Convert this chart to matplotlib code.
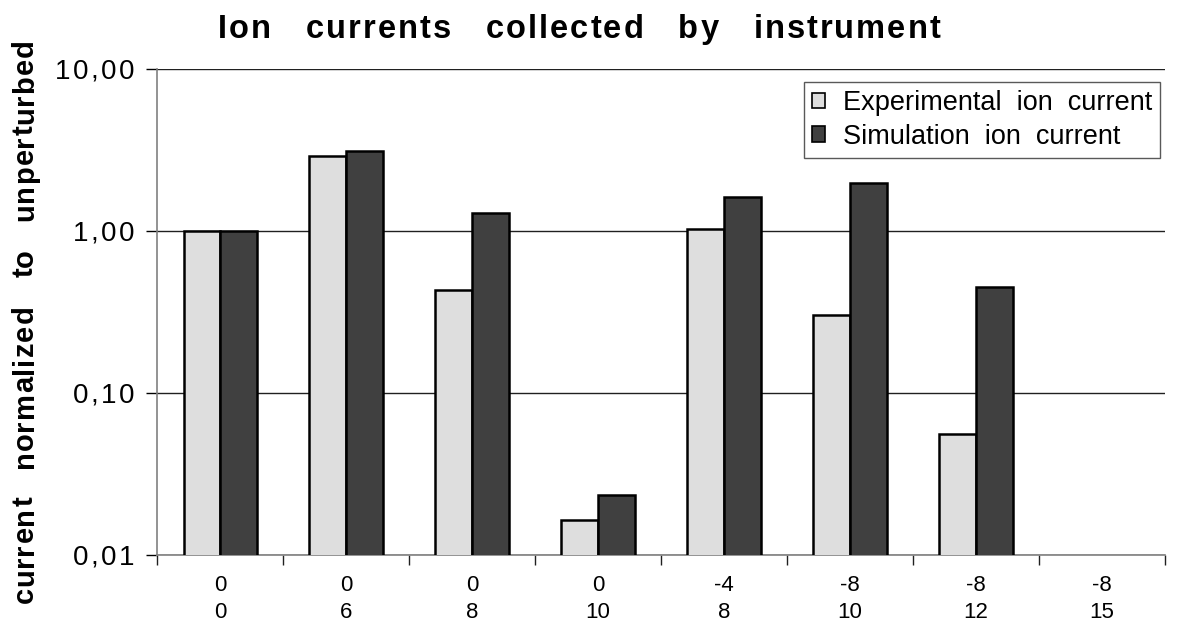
import numpy as np
import matplotlib
matplotlib.use("Agg")
import matplotlib.pyplot as plt
from matplotlib.patches import Patch
from matplotlib.transforms import IdentityTransform
from matplotlib.font_manager import FontProperties, findfont
from matplotlib.ft2font import FT2Font

# Bias settings for each measurement (two-line category labels)
bias_top = ["0", "0", "0", "0", "-4", "-8", "-8", "-8"]
bias_bottom = ["0", "6", "8", "10", "8", "10", "12", "15"]

# Ion currents normalized to the unperturbed case
experimental = [1.00, 2.90, 0.43, 0.0165, 1.03, 0.305, 0.056, np.nan]
simulation = [1.00, 3.12, 1.29, 0.0235, 1.62, 1.98, 0.451, np.nan]

ytick_values = [0.01, 0.1, 1, 10]
ytick_labels = ["0,01", "0,10", "1,00", "10,00"]

series_names = ["Experimental  ion  current", "Simulation  ion  current"]
title = "Ion   currents   collected   by   instrument"
ylabel = "current   normalized   to   unperturbed"

FAMILY = "Liberation Sans"
plt.rcParams["font.family"] = [FAMILY, "DejaVu Sans"]

fig = plt.figure(figsize=(11.88, 6.26), dpi=100)
ax = fig.add_axes([0.1322, 0.1134, 0.8484, 0.7764])
ax.set_yscale("log")


def spaced_text(s, x0, y0, size, weight="normal", tracking=0.0,
                ha="left", vertical=False):
    """Draw s in display pixels with extra spacing between letters."""
    prop = FontProperties(family=FAMILY, size=size, weight=weight)
    font = FT2Font(findfont(prop))
    font.set_size(size, fig.dpi)
    adv = [font.load_char(ord(c)).linearHoriAdvance / 65536 for c in s]
    total = sum(adv) + tracking * (len(s) - 1)
    pos = {"left": 0.0, "center": -total / 2, "right": -total}[ha]
    dx, dy = (0, 1) if vertical else (1, 0)
    for c, a in zip(s, adv):
        if c != " ":
            fig.text(x0 + dx * pos, y0 + dy * pos, c,
                     transform=IdentityTransform(), fontproperties=prop,
                     ha="left", va="baseline",
                     rotation=90 if vertical else 0,
                     rotation_mode="anchor")
        pos += a + tracking


x = np.arange(len(bias_top))
w = 0.29
light = "#dedede"
dark = "#404040"
ax.bar(x - w / 2, experimental, width=w, color=light, edgecolor="black",
       linewidth=1.8, zorder=3)
ax.bar(x + w / 2, simulation, width=w, color=dark, edgecolor="black",
       linewidth=1.8, zorder=3)

ax.set_xlim(-0.5, len(bias_top) - 0.5)
ax.set_ylim(0.01, 10)

# y axis: ticks and grid; labels are letter-spaced text
ax.set_yticks(ytick_values)
ax.set_yticklabels([])
ax.yaxis.set_minor_locator(matplotlib.ticker.NullLocator())
ax.tick_params(axis="y", which="major", length=8, width=1, color="black")
ax.yaxis.grid(True, which="major", color="#202020", linewidth=1.0, zorder=0)

ytick_size = 20
ytick_em = ytick_size * fig.dpi / 72
for v, lab in zip(ytick_values, ytick_labels):
    ty = ax.transData.transform((0, v))[1]
    spaced_text(lab, 134, ty - 0.358 * ytick_em, ytick_size, tracking=2.3,
                ha="right")

# x axis: ticks at category boundaries, labels at category centres
ax.set_xticks(np.arange(-0.5, len(bias_top)))
ax.set_xticklabels([])
ax.set_xticks(x, minor=True)
ax.set_xticklabels([f"{t}\n{b}" for t, b in zip(bias_top, bias_bottom)],
                   minor=True, fontsize=16, linespacing=1.4)
ax.tick_params(axis="x", which="major", length=7, width=1, color="#202020",
               direction="out")
ax.tick_params(axis="x", which="minor", length=0, pad=14.4)

for side in ("top", "right"):
    ax.spines[side].set_visible(False)
for side in ("left", "bottom"):
    ax.spines[side].set_color("#808080")
    ax.spines[side].set_linewidth(1.2)

H = fig.dpi * 6.26
spaced_text(title, 579, H - 38, 23.5, weight="bold", tracking=2.0,
            ha="center")
spaced_text(ylabel, 33, H - 321, 21, weight="bold", tracking=1.0,
            ha="center", vertical=True)

handles = [Patch(facecolor=light, edgecolor="black", linewidth=1.2),
           Patch(facecolor=dark, edgecolor="black", linewidth=1.2)]
leg = ax.legend(handles, series_names,
                loc="upper right", bbox_to_anchor=(0.9955, 0.973),
                fontsize=19.5, frameon=True, fancybox=False,
                handlelength=0.5, handleheight=0.5, handletextpad=0.65,
                borderpad=0.3, labelspacing=0.28, borderaxespad=0.0)
leg.get_frame().set_edgecolor("#303030")
leg.get_frame().set_linewidth(1.0)

fig.savefig("out.png", dpi=100)
